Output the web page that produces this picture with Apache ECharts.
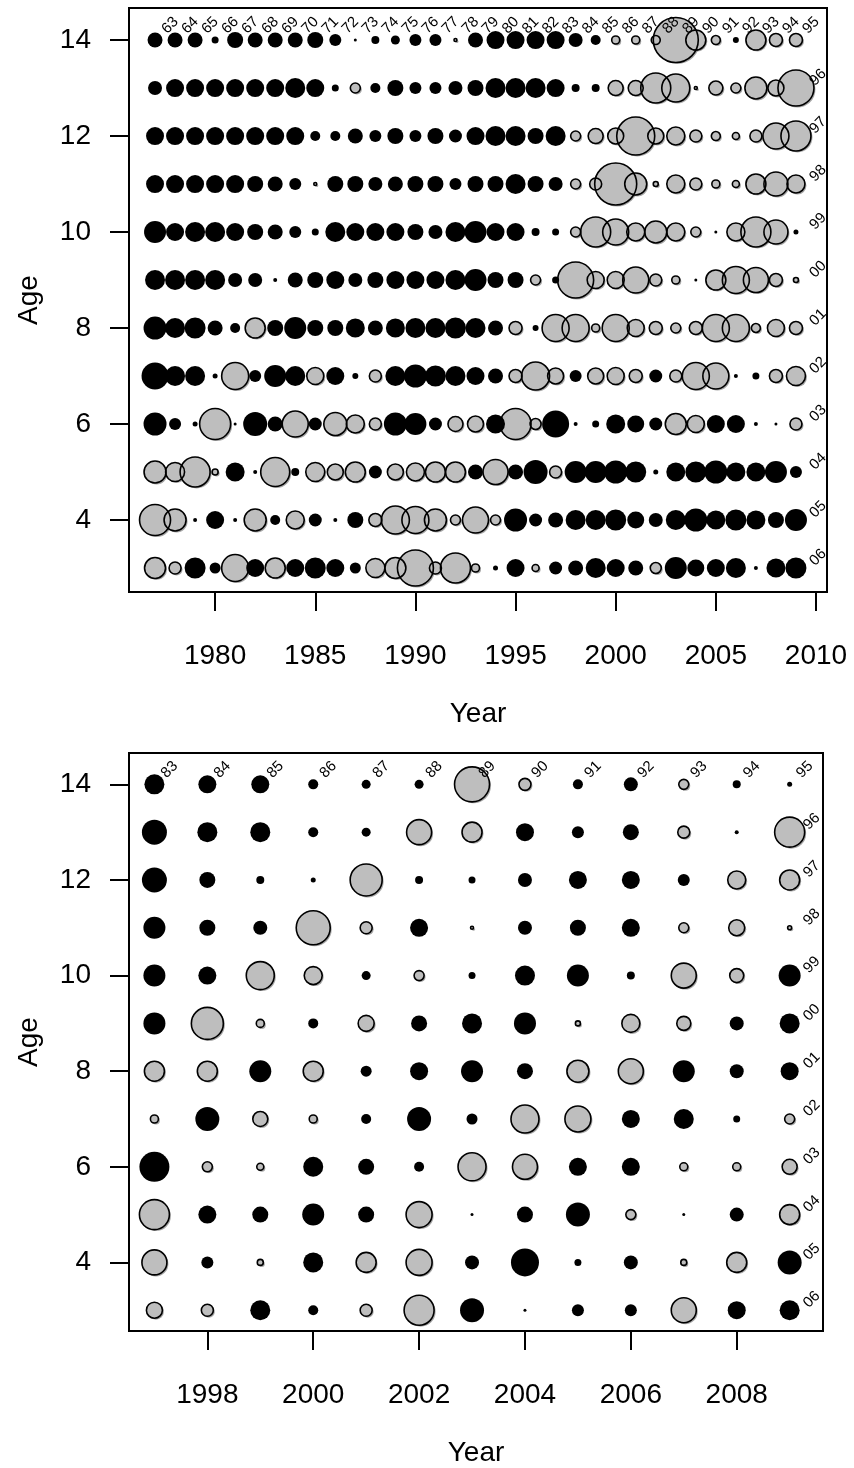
<!DOCTYPE html>
<html>
<head>
<meta charset="utf-8">
<script src="https://cdn.jsdelivr.net/npm/echarts@6/dist/echarts.min.js"></script>
<style>
html, body { margin: 0; padding: 0; background: #fff; }
#chart { width: 854px; height: 1468px; }
</style>
</head>
<body>
<div id="chart"></div>
<script>
// rows of the residual tables, from the top row (age 14) down to age 3
var ages = [14, 13, 12, 11, 10, 9, 8, 7, 6, 5, 4, 3];

// upper panel, 1977 - 2009. positive = grey, negative = black
var yearsA = [1977, 1978, 1979, 1980, 1981, 1982, 1983, 1984, 1985, 1986, 1987,
              1988, 1989, 1990, 1991, 1992, 1993, 1994, 1995, 1996, 1997, 1998,
              1999, 2000, 2001, 2002, 2003, 2004, 2005, 2006, 2007, 2008, 2009];
var resA = [
  [-1.5,-1.5,-1.5,-0.7,-1.6,-1.5,-1.5,-1.5,-1.6,-1.2,-0.3, -0.8,-0.9,-1.2,-1.2,0.3,-1.5,-1.8,-1.8,-1.8,-1.8,-1.4, -1.0,0.8,0.8,0.9,4.5,2.0,0.9,-0.6,2.0,1.3,1.3],
  [-1.4,-1.8,-1.8,-1.8,-1.8,-1.8,-1.8,-2.0,-1.8,-0.7,1.0, -1.0,-1.6,-1.2,-1.2,-1.4,-1.6,-2.0,-2.0,-2.0,-1.8,-0.8, -0.8,1.5,1.5,3.0,2.8,0.3,1.4,1.0,2.2,1.6,3.6],
  [-1.8,-1.8,-1.8,-1.8,-1.8,-1.8,-1.8,-1.8,-1.0,-1.0,-1.5, -1.2,-1.6,-1.2,-1.6,-1.3,-1.8,-2.0,-2.0,-1.6,-2.0,1.0, 1.5,1.6,3.8,1.6,1.8,1.2,0.9,0.7,1.2,2.6,3.0],
  [-1.8,-1.8,-1.8,-1.8,-1.8,-1.6,-1.5,-1.2,0.3,-1.6,-1.6, -1.4,-1.5,-1.6,-1.6,-1.2,-1.6,-1.6,-2.0,-1.6,-1.4,1.0, 1.2,4.2,2.2,0.5,1.8,1.2,0.8,0.7,2.0,2.4,1.8],
  [-2.2,-1.8,-2.0,-2.0,-1.8,-1.6,-1.5,-1.2,-0.7,-2.0,-1.8, -1.8,-1.8,-1.6,-1.4,-2.0,-2.2,-1.8,-1.8,-0.8,-0.7,1.0, 3.0,2.6,1.8,2.2,1.8,1.0,-0.3,1.8,3.0,2.4,-0.5],
  [-2.0,-2.0,-2.0,-2.0,-1.4,-1.4,-0.4,-1.5,-1.6,-1.8,-1.4, -1.6,-1.8,-1.8,-1.8,-2.0,-2.2,-1.6,-1.6,1.0,-0.7,3.6, 1.7,1.7,2.6,1.2,0.8,-0.3,2.0,2.7,2.5,1.3,0.5],
  [-2.3,-2.0,-2.1,-1.5,-1.0,2.0,-1.6,-2.2,-1.6,-1.6,-1.9, -1.5,-1.9,-2.0,-2.0,-2.1,-2.0,-1.5,1.3,-0.6,2.7,2.7, 0.8,2.7,1.7,1.3,1.0,1.3,2.7,2.7,0.9,1.7,1.3],
  [-2.7,-2.0,-2.0,-0.5,2.7,-1.2,-2.2,-2.0,1.7,-1.8,-0.6, 1.2,-2.0,-2.3,-2.1,-2.0,-1.8,-1.5,1.3,2.8,1.6,-1.2, 1.6,1.7,1.3,-1.3,1.2,2.7,2.6,-0.4,-0.7,1.3,1.9],
  [-2.3,-1.2,-0.5,3.1,-0.3,-2.4,-1.5,2.6,-1.3,2.3,1.8, 1.2,-2.3,-2.2,-1.3,1.5,1.6,-1.9,3.1,1.1,-2.7,-0.4, -0.7,-1.9,-1.7,-1.3,2.1,1.7,-1.8,-1.8,-0.4,-0.3,1.2],
  [2.2,1.9,3.0,0.6,-1.9,-0.4,2.9,-0.8,1.9,1.6,2.0, -1.3,1.6,1.8,2.0,2.0,-1.5,2.5,-1.5,-2.4,1.2,-2.2, -2.2,-2.3,-2.1,-0.5,-1.9,-2.1,-2.3,-1.9,-1.9,-2.2,-1.2],
  [3.1,2.2,-0.4,-1.8,-0.4,2.2,-1.0,1.8,-1.3,-0.4,-1.6, 1.3,2.8,2.7,2.2,1.0,2.6,1.0,-2.3,-1.3,-1.5,-2.0, -2.0,-2.1,-1.7,-1.4,-2.0,-2.3,-1.9,-2.1,-1.9,-1.6,-2.2],
  [2.1,1.2,-2.1,-1.1,2.7,-1.8,2.0,-1.8,-2.1,-1.8,-1.1, 1.9,2.1,3.6,1.2,3.0,0.8,-0.5,-1.8,0.7,-1.3,-1.5, -2.0,-1.8,-1.5,1.1,-2.2,-1.7,-1.8,-2.0,-0.4,-1.9,-2.1]
];

// lower panel, 1997 - 2009
var yearsB = [1997, 1998, 1999, 2000, 2001, 2002, 2003, 2004, 2005, 2006, 2007, 2008, 2009];
var resB = [
  [-2.0,-1.8,-1.8,-1.0,-0.9,-0.9,3.5,1.2,-1.0,-1.4,1.0,-0.8,-0.5],
  [-2.5,-2.0,-2.0,-1.0,-0.9,2.5,2.0,-1.8,-1.2,-1.6,1.2,-0.4,3.0],
  [-2.5,-1.6,-0.8,-0.5,3.2,-0.8,-0.7,-1.4,-1.8,-1.8,-1.2,1.8,2.0],
  [-2.2,-1.6,-1.4,3.4,1.2,-1.8,0.3,-1.4,-1.6,-1.8,1.0,1.6,0.4],
  [-2.2,-1.8,2.8,1.8,-0.9,1.0,-0.7,-2.0,-2.2,-0.8,2.5,1.4,-2.2],
  [-2.2,3.2,0.8,-1.0,1.6,-1.6,-2.0,-2.2,0.5,1.8,1.4,-1.4,-2.0],
  [2.0,2.0,-2.2,2.0,-1.1,-1.8,-2.2,-1.6,2.2,2.5,-2.2,-1.4,-1.8],
  [0.8,-2.4,1.5,0.8,-1.0,-2.4,-1.1,2.8,2.6,-1.8,-2.0,-0.7,1.0],
  [-3.0,1.0,0.7,-2.0,-1.6,-1.0,2.8,2.5,-1.8,-1.8,0.8,0.8,1.5],
  [3.0,-1.8,-1.6,-2.2,-1.6,2.6,-0.3,-1.6,-2.4,1.0,-0.3,-1.4,2.0],
  [2.5,-1.2,0.6,-2.0,2.0,2.6,-1.4,-2.8,-0.7,-1.4,0.6,2.0,-2.4],
  [1.6,1.2,-2.0,-1.0,1.2,3.0,-2.4,-0.3,-1.2,-1.2,2.5,-1.8,-2.0]
];

var yearTicksA = [1980, 1985, 1990, 1995, 2000, 2005, 2010];
var yearTicksB = [1998, 2000, 2002, 2004, 2006, 2008];
var ageTicks = [4, 6, 8, 10, 12, 14];

var FONT = 'Liberation Sans, Arial, sans-serif';

function splitPoints(years, res) {
    var pos = [], neg = [];
    for (var r = 0; r < ages.length; r++) {
        for (var c = 0; c < years.length; c++) {
            var v = res[r][c];
            if (v >= 0) pos.push([years[c], ages[r], v]);
            else neg.push([years[c], ages[r], v]);
        }
    }
    return { pos: pos, neg: neg };
}

// cohort labels: along the oldest age row and down the last year
function cohortPoints(years) {
    var top = [], side = [];
    var last = years[years.length - 1];
    for (var i = 0; i < years.length; i++) {
        top.push([years[i], ages[0], String(years[i] - ages[0]).slice(-2)]);
    }
    for (var r = 1; r < ages.length; r++) {
        side.push([last, ages[r], String(last - ages[r]).slice(-2)]);
    }
    return { top: top, side: side };
}

function sizeOf(d) { return Math.abs(d[2]) * 10; }

function panelSeries(idx, years, res) {
    var p = splitPoints(years, res);
    var lab = cohortPoints(years);
    var labelStyle = function (pos) {
        return {
            show: true, position: pos, rotate: 45, align: 'left', verticalAlign: 'bottom',
            fontSize: 15, color: '#000', opacity: 1, fontFamily: FONT,
            formatter: function (o) { return o.value[2]; }
        };
    };
    return [
        {   // grey fill
            type: 'scatter', xAxisIndex: idx, yAxisIndex: idx, data: p.pos,
            symbolSize: sizeOf, silent: true,
            itemStyle: { color: '#bebebe', opacity: 1, shadowColor: 'rgba(0,0,0,0.35)', shadowOffsetX: 1.5, shadowOffsetY: 1.5 }
        },
        {   // grey outlines drawn after all fills
            type: 'scatter', xAxisIndex: idx, yAxisIndex: idx, data: p.pos,
            symbolSize: sizeOf, silent: true,
            itemStyle: { color: 'rgba(0,0,0,0)', opacity: 1, borderColor: '#000', borderWidth: 1.6 }
        },
        {   // black
            type: 'scatter', xAxisIndex: idx, yAxisIndex: idx, data: p.neg,
            symbolSize: sizeOf, silent: true,
            itemStyle: { color: '#000', opacity: 1 }
        },
        {
            type: 'scatter', xAxisIndex: idx, yAxisIndex: idx, data: lab.top,
            symbolSize: 1, silent: true, itemStyle: { color: 'rgba(0,0,0,0)', opacity: 1 },
            label: labelStyle([15, -3])
        },
        {
            type: 'scatter', xAxisIndex: idx, yAxisIndex: idx, data: lab.side,
            symbolSize: 1, silent: true, itemStyle: { color: 'rgba(0,0,0,0)', opacity: 1 },
            label: labelStyle([22, 1])
        }
    ];
}

function xAxisFor(idx, min, max, ticks) {
    return {
        type: 'value', gridIndex: idx, min: min, max: max,
        axisLine: { show: false },
        splitLine: { show: false },
        axisTick: { show: true, length: 19, lineStyle: { color: '#000', width: 2 }, customValues: ticks },
        axisLabel: { customValues: ticks, fontSize: 28, color: '#000', margin: 50, fontFamily: FONT,
                     formatter: function (v) { return String(v); } },
        name: 'Year', nameLocation: 'middle', nameGap: 108,
        nameTextStyle: { fontSize: 28, color: '#000', fontFamily: FONT }
    };
}

function yAxisFor(idx, min, max) {
    return {
        type: 'value', gridIndex: idx, min: min, max: max,
        axisLine: { show: false },
        splitLine: { show: false },
        axisTick: { show: true, length: 19, lineStyle: { color: '#000', width: 2 }, customValues: ageTicks },
        axisLabel: { customValues: ageTicks, fontSize: 28, color: '#000', margin: 38, fontFamily: FONT,
                     formatter: function (v) { return String(v); } },
        name: 'Age', nameLocation: 'middle', nameGap: 86,
        nameTextStyle: { fontSize: 28, color: '#000', fontFamily: FONT }
    };
}

var chart = echarts.init(document.getElementById('chart'), null, { renderer: 'canvas' });
chart.setOption({
    backgroundColor: '#fff',
    animation: false,
    grid: [
        { left: 129, top: 8, width: 698, height: 584, show: true, borderColor: '#000', borderWidth: 2 },
        { left: 129, top: 753, width: 694, height: 584, show: true, borderColor: '#000', borderWidth: 2 }
    ],
    xAxis: [
        xAxisFor(0, 1975.7, 2010.55, yearTicksA),
        xAxisFor(1, 1996.52, 2009.63, yearTicksB)
    ],
    yAxis: [
        yAxisFor(0, 2.5, 14.667),
        yAxisFor(1, 2.565, 14.656)
    ],
    series: panelSeries(0, yearsA, resA).concat(panelSeries(1, yearsB, resB))
});
</script>
</body>
</html>
